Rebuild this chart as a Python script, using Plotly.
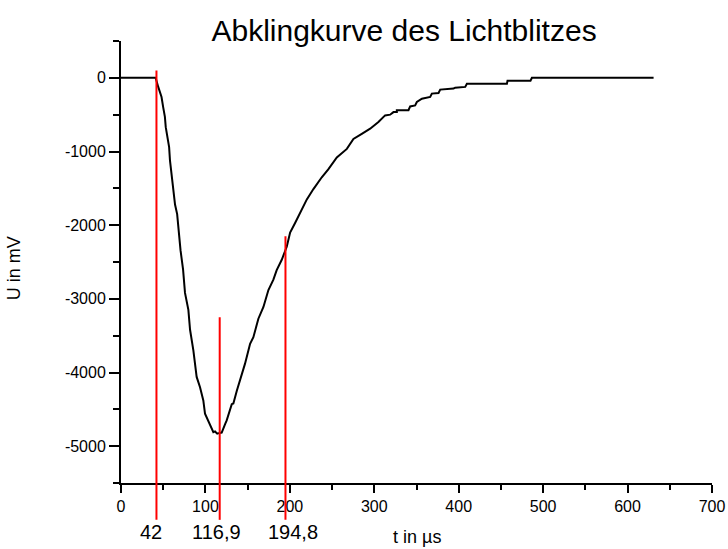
import plotly.graph_objects as go

# Decay curve of the flash: time in microseconds, voltage in millivolts
t_us = [0, 41, 44, 48, 50, 52, 53, 55, 57, 58, 60, 62, 64, 66.5, 68, 70.5,
        73.5, 75.8, 79.8, 81.8, 85.7, 89.6, 93.6, 97.5, 99.5, 103, 105.5,
        109.4, 111.4, 114, 117, 119.3, 123.3, 125.2, 131.2, 133.1, 137.1,
        143, 146.9, 152.9, 156.8, 162.7, 168.7, 174.6, 180.5, 184.4, 190.4,
        196.4, 200.3, 206.2, 214.1, 220.1, 227.9, 237.8, 245.7, 255.6, 267.5,
        275.3, 285.2, 295.1, 304.9, 312.8, 318.8, 322.7, 326.7, 326.7, 340.5,
        342.5, 348.4, 350.4, 356.4, 366.2, 368.2, 376.1, 378.1, 393.9, 395.8,
        407.7, 409.7, 457.1, 457.8, 485.0, 486.7, 630.8]
u_mv = [0, 0, -120, -260, -400, -530, -670, -800, -940, -1120, -1300, -1530,
        -1720, -1850, -2080, -2340, -2600, -2920, -3150, -3420, -3700, -4060,
        -4200, -4380, -4560, -4650, -4700, -4810, -4800, -4830, -4820, -4815,
        -4700, -4650, -4430, -4420, -4250, -4020, -3880, -3610, -3520, -3270,
        -3110, -2880, -2740, -2610, -2470, -2290, -2100, -1970, -1790, -1650,
        -1510, -1350, -1240, -1080, -965, -830, -760, -690, -600, -510, -500,
        -465, -465, -440, -440, -388, -374, -328, -283, -260, -214, -205,
        -160, -146, -133, -123, -80, -80, -40, -40, 0, 0]

# Marker lines: position, upper end (mV) and label
marker_t = [42, 116.9, 194.8]
marker_top = [100, -3250, -2150]
marker_text = ["42", "116,9", "194,8"]
marker_label_shift = [-5, -3, 8]
marker_bottom = -6000

x_range = [0, 700]
y_range = [-5500, 500]
x_tick_vals = [0, 100, 200, 300, 400, 500, 600, 700]
x_tick_text = ["0", "100", "200", "300", "400", "500", "600", "700"]
y_tick_vals = [0, -1000, -2000, -3000, -4000, -5000]
y_tick_text = ["0", "-1000", "-2000", "-3000", "-4000", "-5000"]

FONT = "Arial, Liberation Sans, sans-serif"


def to_paper_y(v):
    return (v - y_range[0]) / (y_range[1] - y_range[0])


fig = go.Figure()
fig.add_trace(go.Scatter(x=t_us, y=u_mv, mode="lines",
                         line=dict(color="black", width=2),
                         showlegend=False, hoverinfo="x+y"))

for t, top, txt, dx in zip(marker_t, marker_top, marker_text, marker_label_shift):
    fig.add_shape(type="line", xref="x", yref="paper",
                  x0=t, x1=t, y0=to_paper_y(marker_bottom), y1=to_paper_y(top),
                  line=dict(color="#ff0000", width=2))
    fig.add_annotation(x=t, xref="x", y=-0.11, yref="paper", text=txt,
                       showarrow=False, xshift=dx, yanchor="middle",
                       font=dict(family=FONT, size=20, color="black"))

fig.add_annotation(x=0.5, xref="paper", y=-0.122, yref="paper",
                   text="t in µs", showarrow=False, yanchor="middle",
                   font=dict(family=FONT, size=18, color="black"))
fig.add_annotation(x=-0.181, xref="paper", y=0.486, yref="paper",
                   text="U in mV", showarrow=False, textangle=-90,
                   xanchor="center", yanchor="middle",
                   font=dict(family=FONT, size=18, color="black"))

fig.update_layout(
    width=728, height=549,
    margin=dict(l=121, r=16, t=41, b=66, autoexpand=False),
    paper_bgcolor="white", plot_bgcolor="white",
    font=dict(family=FONT, color="black"),
    title=dict(text="Abklingkurve des Lichtblitzes", x=0.555, xref="container",
               xanchor="center", y=0.945, yref="container", yanchor="middle",
               font=dict(family=FONT, size=30, color="black")),
)
fig.update_xaxes(range=x_range, showgrid=False, zeroline=False,
                 automargin=False,
                 showline=True, linecolor="black", linewidth=2,
                 ticks="outside", ticklen=8, tickwidth=2, tickcolor="black",
                 tickvals=x_tick_vals, ticktext=x_tick_text,
                 tickfont=dict(family=FONT, size=16, color="black"),
                 minor=dict(dtick=50, tick0=0, ticks="outside", ticklen=5,
                            tickwidth=2, tickcolor="black"))
fig.update_yaxes(range=y_range, showgrid=False, zeroline=False,
                 automargin=False,
                 showline=True, linecolor="black", linewidth=2,
                 ticks="outside", ticklen=10, tickwidth=2, tickcolor="black",
                 tickvals=y_tick_vals, ticktext=y_tick_text,
                 tickfont=dict(family=FONT, size=16, color="black"),
                 minor=dict(dtick=500, tick0=0, ticks="outside", ticklen=6,
                            tickwidth=2, tickcolor="black"))

fig.write_html("out.html")
